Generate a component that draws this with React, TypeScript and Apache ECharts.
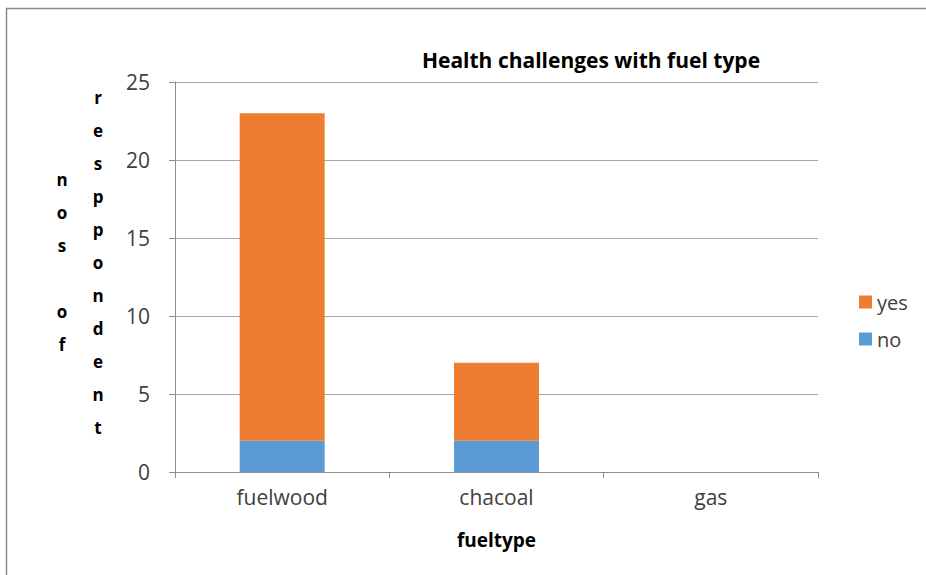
import React, { useEffect, useRef } from "react";
import * as echarts from "echarts";

const categories = ["fuelwood", "chacoal", "gas"];
const noValues = [2, 2, 0];
const yesValues = [21, 5, 0];
const yTicks = [0, 5, 10, 15, 20, 25];
const titleText = "Health challenges with fuel type";
const xAxisTitle = "fueltype";
const yTitleCol1 = ["n", "o", "s", " ", "o", "f"];
const yTitleCol2 = ["r", "e", "s", "p", "p", "o", "n", "d", "e", "n", "t"];

const FONT = "'Open Sans', 'Liberation Sans', sans-serif";

export default function App() {
  const ref = useRef<HTMLDivElement>(null);
  useEffect(() => {
    if (!ref.current) return;
    const chart = echarts.init(ref.current, null, { renderer: "svg" });
    const lh = 33;
    chart.setOption({
      animation: false,
      backgroundColor: "#ffffff",
      title: {
        text: titleText,
        left: 586,
        top: 44,
        textAlign: "center",
        textStyle: { fontFamily: FONT, fontSize: 21, fontWeight: "bold", color: "#000" },
      },
      legend: {
        data: ["yes", "no"],
        orient: "vertical",
        left: 854,
        top: 287,
        itemWidth: 13,
        itemHeight: 13,
        itemGap: 17,
        icon: "rect",
        textStyle: { fontFamily: FONT, fontSize: 20, color: "#404040", padding: [0, 0, 0, 0] },
      },
      grid: { left: 175, right: 108, top: 82, bottom: 103 },
      xAxis: {
        type: "category",
        data: categories,
        name: xAxisTitle,
        nameLocation: "middle",
        nameGap: 58,
        nameTextStyle: { fontFamily: FONT, fontSize: 19, fontWeight: "bold", color: "#000" },
        axisLine: { lineStyle: { color: "#8c8c8c", width: 1 } },
        axisTick: { show: true, length: 6, lineStyle: { color: "#8c8c8c" } },
        axisLabel: { fontFamily: FONT, fontSize: 21, color: "#404040", margin: 14 },
      },
      yAxis: {
        type: "value",
        min: yTicks[0],
        max: yTicks[yTicks.length - 1],
        interval: 5,
        axisLine: { show: true, lineStyle: { color: "#8c8c8c", width: 1 } },
        axisTick: { show: true, length: 6, lineStyle: { color: "#8c8c8c" } },
        splitLine: { lineStyle: { color: "#a6a6a6", width: 1 } },
        axisLabel: { fontFamily: FONT, fontSize: 21, color: "#404040", margin: 25 },
      },
      series: [
        {
          name: "no",
          type: "bar",
          stack: "total",
          data: noValues,
          barWidth: 85,
          itemStyle: { color: "#5b9bd5" },
        },
        {
          name: "yes",
          type: "bar",
          stack: "total",
          data: yesValues,
          barWidth: 85,
          itemStyle: { color: "#ed7d31" },
        },
      ],
      graphic: [
        {
          type: "rect",
          shape: { x: 6.5, y: 8.5, width: 1000, height: 1000 },
          style: { fill: "none", stroke: "#8a8a8a", lineWidth: 1.5 },
          silent: true,
        },
        {
          type: "text",
          x: 62,
          y: 262,
          style: {
            text: yTitleCol1.join("\n"),
            fontFamily: FONT,
            fontSize: 17,
            fontWeight: "bold",
            fill: "#000",
            lineHeight: lh,
            align: "center",
            verticalAlign: "middle",
          },
        },
        {
          type: "text",
          x: 98,
          y: 262,
          style: {
            text: yTitleCol2.join("\n"),
            fontFamily: FONT,
            fontSize: 17,
            fontWeight: "bold",
            fill: "#000",
            lineHeight: lh,
            align: "center",
            verticalAlign: "middle",
          },
        },
      ],
    });
    return () => chart.dispose();
  }, []);
  return (
    <div
      ref={ref}
      style={{ position: "fixed", left: 0, top: 0, width: 926, height: 575, background: "#fff" }}
    />
  );
}
